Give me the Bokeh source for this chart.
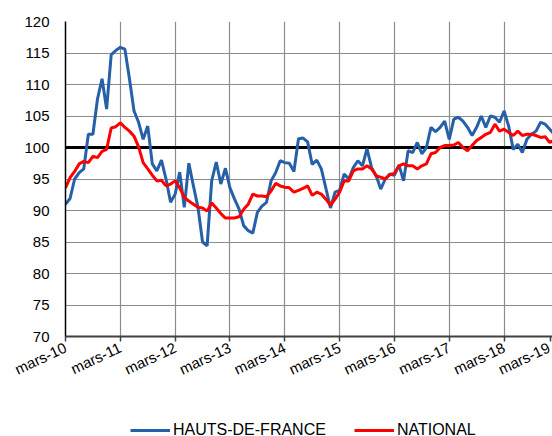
from bokeh.plotting import figure
from bokeh.layouts import column
from bokeh.models import Range1d, FixedTicker, Legend, LegendItem, Span
from bokeh.embed import file_html
from bokeh.resources import INLINE

# Monthly index, base month = mars-2010
tick_labels = ["mars-10", "mars-11", "mars-12", "mars-13", "mars-14",
               "mars-15", "mars-16", "mars-17", "mars-18", "mars-19"]

hdf = [91.0, 91.9, 95.0, 96.0, 96.6, 102.1, 102.1, 107.7, 110.9, 106.1,
       114.7, 115.4, 115.9, 115.6, 110.9, 105.8, 104.0, 101.3, 103.4, 97.4,
       96.3, 98.0, 95.0, 91.3, 92.6, 96.1, 90.5, 97.5, 93.9, 90.5,
       85.0, 84.4, 94.7, 97.7, 94.2, 96.7, 93.6, 91.8, 90.2, 87.6,
       86.8, 86.4, 89.7, 90.7, 91.3, 94.7, 96.0, 97.9, 97.6, 97.5,
       96.2, 101.4, 101.5, 100.9, 97.3, 98.0, 96.6, 93.5, 90.4, 92.9,
       93.2, 95.8, 95.0, 96.8, 97.9, 97.1, 99.8, 96.8, 95.5, 93.4,
       95.0, 95.8, 95.6, 97.2, 94.7, 99.5, 99.2, 100.8, 99.0, 100.0,
       103.2, 102.5, 103.2, 104.2, 101.3, 104.5, 104.8, 104.2, 103.2, 101.9,
       103.2, 105.0, 103.2, 105.0, 104.8, 104.0, 105.8, 103.4, 99.7, 100.5,
       99.2, 101.3, 102.1, 102.6, 104.0, 103.7, 102.9, 102.1]

national = [93.6, 95.2, 96.2, 97.4, 97.8, 97.6, 98.6, 98.4, 99.4, 99.7,
            103.1, 103.3, 103.9, 103.2, 102.6, 101.8, 100.1, 97.6, 96.6, 95.6,
            94.7, 94.8, 93.9, 94.2, 94.7, 93.6, 92.1, 91.5, 91.0, 90.5,
            90.4, 89.9, 91.2, 90.4, 89.5, 88.8, 88.8, 88.8, 89.0, 90.2,
            91.0, 92.6, 92.3, 92.3, 92.2, 93.1, 94.3, 93.9, 93.7, 93.6,
            92.9, 93.2, 93.5, 93.9, 92.4, 92.9, 92.6, 91.8, 90.8, 91.8,
            92.9, 94.7, 94.7, 96.3, 96.6, 96.6, 97.1, 96.6, 95.5, 95.3,
            95.0, 95.7, 95.9, 97.1, 97.4, 97.1, 97.1, 96.6, 97.1, 97.4,
            99.0, 99.2, 100.0, 100.3, 100.3, 100.4, 100.8, 100.0, 99.5, 100.3,
            101.1, 101.6, 102.1, 102.4, 103.7, 102.6, 102.9, 102.4, 101.9, 102.6,
            101.9, 102.1, 102.1, 101.9, 101.6, 101.7, 100.8, 101.2]

y_ticks = [70, 75, 80, 85, 90, 95, 100, 105, 110, 115, 120]
reference_level = 100
series_names = ["HAUTS-DE-FRANCE", "NATIONAL"]
series_colors = ["#2560a8", "#ff0000"]

months = list(range(len(hdf)))
tick_pos = [12 * k for k in range(len(tick_labels))]

FONT = "Liberation Sans"
X_END = 106.6

# the last year label falls just past the visible edge: pin it to the edge
label_pos = [t if t <= X_END else X_END - 0.4 for t in tick_pos]
grid_pos = [t for t in tick_pos if t <= X_END]

p = figure(width=552, height=400, output_backend="svg", toolbar_location=None,
           x_range=Range1d(0, X_END), y_range=Range1d(70, 120),
           min_border_left=65, min_border_right=0, min_border_top=21,
           min_border_bottom=64)
p.outline_line_color = None
p.background_fill_color = "white"

# grid
p.xgrid.ticker = FixedTicker(ticks=grid_pos)
p.xgrid.grid_line_color = "#8c8c8c"
p.ygrid.grid_line_color = "#8c8c8c"
p.xgrid.grid_line_width = 1.2
p.ygrid.grid_line_width = 1.2

# axes
p.yaxis.ticker = FixedTicker(ticks=y_ticks)
p.yaxis.major_tick_line_color = None
p.yaxis.minor_tick_line_color = None
p.yaxis.axis_line_color = "black"
p.yaxis.axis_line_width = 1.5
p.yaxis.major_label_standoff = 10
p.yaxis.major_label_text_font = FONT
p.yaxis.major_label_text_font_size = "15px"
p.yaxis.major_label_text_color = "black"

p.xaxis.ticker = FixedTicker(ticks=label_pos)
p.xaxis.major_label_overrides = {t: l for t, l in zip(label_pos, tick_labels)}
p.xaxis.major_tick_out = 5
p.xaxis.major_tick_in = 0
p.xaxis.major_tick_line_color = "#404040"
p.xaxis.major_tick_line_width = 1.5
p.xaxis.minor_tick_line_color = None
p.xaxis.axis_line_color = "#404040"
p.xaxis.axis_line_width = 2
p.xaxis.major_label_orientation = 0.44
p.xaxis.major_label_standoff = 5
p.xaxis.major_label_text_font = FONT
p.xaxis.major_label_text_font_size = "15px"
p.xaxis.major_label_text_color = "black"

ref = Span(location=reference_level, dimension="width", line_color="black",
           line_width=3, level="underlay")
p.add_layout(ref)

r1 = p.line(months, hdf, line_color=series_colors[0], line_width=3)
r2 = p.line(months, national, line_color=series_colors[1], line_width=3)

# legend strip under the chart (its frame is aligned with the chart's frame)
pl = figure(width=552, height=36, output_backend="svg", toolbar_location=None,
            x_range=Range1d(0, 1), y_range=Range1d(0, 1),
            x_axis_location=None, y_axis_location=None, min_border=0)
pl.outline_line_color = None
pl.xgrid.visible = False
pl.ygrid.visible = False
# proxy renderers for the legend keys (their data lie outside this strip's view)
lr = [pl.line(months, s, line_color=c, line_width=3)
      for s, c in zip([hdf, national], series_colors)]

legend = Legend(items=[LegendItem(label=n, renderers=[r])
                       for n, r in zip(series_names, lr)],
                orientation="horizontal", location=(65, -2.5),
                glyph_width=40, glyph_height=16, label_standoff=3, spacing=28,
                padding=0, margin=0, border_line_color=None,
                background_fill_alpha=0, label_text_font=FONT,
                label_text_font_size="16px", label_text_color="black")
pl.add_layout(legend, "center")

layout = column(p, pl, spacing=0)
open("out.html", "w").write(file_html(layout, INLINE))
